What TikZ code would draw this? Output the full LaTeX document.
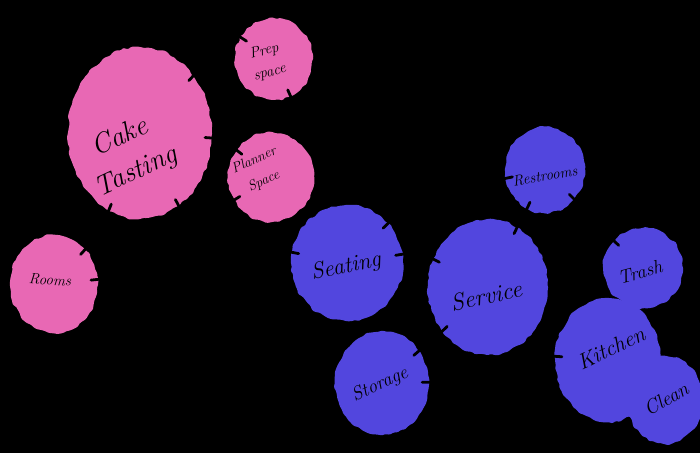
\documentclass[tikz,border=0pt]{standalone}
\usetikzlibrary{shapes.geometric,calc,decorations.pathmorphing}

\definecolor{tastepink}{RGB}{232,104,180}
\definecolor{serveblue}{RGB}{82,70,222}
\newcommand\hand[2]{\fontsize{#1}{#2}\itshape\selectfont}

\begin{document}
\begin{tikzpicture}[
    x=1pt, y=-1pt,
    room/.style     = {ellipse, inner sep=0pt, decorate, rounded corners=1.2pt,
                       decoration={random steps, segment length=4pt, amplitude=1.3pt}},
    pinkroom/.style = {room, fill=tastepink},
    blueroom/.style = {room, fill=serveblue},
    tag/.style      = {align=center, inner sep=0pt, text=black},
    notch/.style    = {line width=2.8pt, line cap=round, black}
]
\pgfmathsetseed{7}
\useasboundingbox (0,0) rectangle (700,453);
\fill[black] (0,0) rectangle (700,453);

% Front of house: pink bubbles
\node[pinkroom, minimum width=144pt, minimum height=172pt] (cake)    at (140,133) {};
\node[pinkroom, minimum width=78pt,  minimum height=82pt]  (prep)    at (274,59)  {};
\node[pinkroom, minimum width=86pt,  minimum height=90pt]  (planner) at (271,177) {};
\node[pinkroom, minimum width=88pt,  minimum height=98pt]  (rooms)   at (54,284)  {};

% Back of house: blue bubbles
\node[blueroom, minimum width=112pt, minimum height=116pt] (seating)   at (347,263) {};
\node[blueroom, minimum width=120pt, minimum height=136pt] (service)   at (488,287) {};
\node[blueroom, minimum width=80pt,  minimum height=86pt]  (restrooms) at (545,170) {};
\node[blueroom, minimum width=94pt,  minimum height=104pt] (storage)   at (382,383) {};
\node[blueroom, minimum width=80pt,  minimum height=80pt]  (trash)     at (643,268) {};
\node[blueroom, minimum width=76pt,  minimum height=88pt]  (clean)     at (665,400) {};
\node[blueroom, minimum width=106pt, minimum height=124pt] (kitchen)   at (608,360) {};

% Door notches on the bubble edges
\foreach \n/\a in {cake/47, cake/356, cake/298, cake/248,
                   prep/147, prep/294, planner/142, planner/212,
                   rooms/48, rooms/6,
                   seating/44, seating/169, seating/9,
                   service/64, service/153, service/224,
                   restrooms/192, restrooms/245, restrooms/315,
                   storage/41, storage/1, trash/137, kitchen/176}
    \draw[notch] ($(\n.\a)!7pt!(\n.center)$) -- ($(\n.\a)!-1pt!(\n.center)$);

% Labels
\node[tag, rotate=25, font=\hand{28}{38}] (cakeTxt)    at (128,155) {Cake\\Tasting};
\node[tag, rotate=15, font=\hand{15}{22}] (prepTxt)    at (267,62)  {Prep\\space};
\node[tag, rotate=25, font=\hand{14}{23}] (plannerTxt) at (259,171) {Planner\\Space};
\node[tag, rotate=-3, font=\hand{15}{17}] (roomsTxt)   at (50,280)  {Rooms};
\node[tag, rotate=12, font=\hand{23}{26}] (seatTxt)    at (346,267) {Seating};
\node[tag, rotate=12, font=\hand{24}{27}] (servTxt)    at (486,296) {Service};
\node[tag, rotate=10, font=\hand{15}{17}] (restTxt)    at (545,176) {Restrooms};
\node[tag, rotate=25, font=\hand{19}{21}] (storTxt)    at (380,385) {Storage};
\node[tag, rotate=15, font=\hand{19}{21}] (trashTxt)   at (640,272) {Trash};
\node[tag, rotate=25, font=\hand{22}{24}] (kitTxt)     at (611,348) {Kitchen};
\node[tag, rotate=30, font=\hand{20}{22}] (cleanTxt)   at (666,399) {Clean};

\end{tikzpicture}
\end{document}
